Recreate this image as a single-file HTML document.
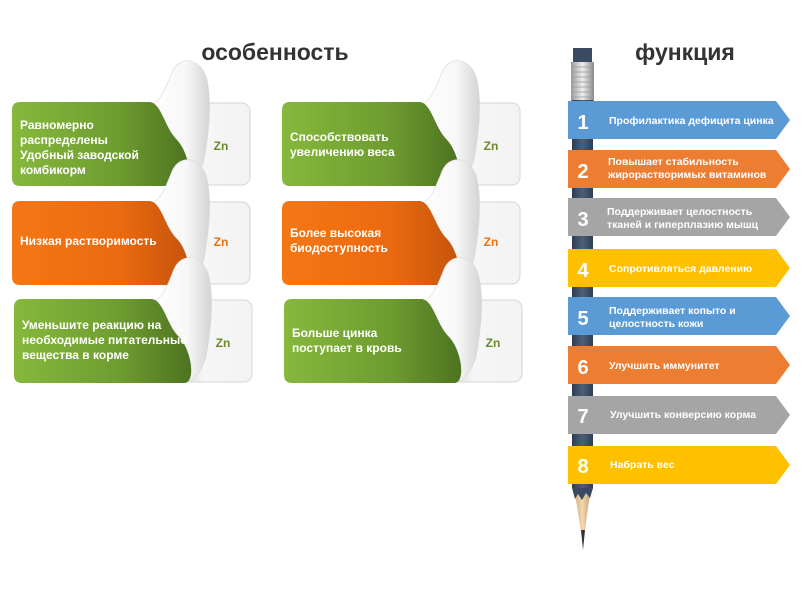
<!DOCTYPE html>
<html><head><meta charset="utf-8"><style>
body{margin:0;background:#fff;}
svg text{font-family:"Liberation Sans",sans-serif;}
</style></head><body>
<svg width="810" height="600" viewBox="0 0 810 600" xmlns="http://www.w3.org/2000/svg">
<defs>
<linearGradient id="gG" x1="0" x2="1"><stop offset="0" stop-color="#86b83c"/><stop offset="0.6" stop-color="#6e9c30"/><stop offset="1" stop-color="#4d7320"/></linearGradient>
<linearGradient id="gO" x1="0" x2="1"><stop offset="0" stop-color="#f47714"/><stop offset="0.6" stop-color="#ec6a10"/><stop offset="1" stop-color="#c4540c"/></linearGradient>
<linearGradient id="gC" x1="0" x2="1"><stop offset="0" stop-color="#ffffff"/><stop offset="0.6" stop-color="#f7f7f7"/><stop offset="1" stop-color="#d4d4d4"/></linearGradient>
<linearGradient id="gW" x1="0" x2="1"><stop offset="0" stop-color="#d8d8d8"/><stop offset="0.35" stop-color="#f6f6f6"/><stop offset="1" stop-color="#f3f3f3"/></linearGradient>
<linearGradient id="gP" x1="0" x2="1"><stop offset="0" stop-color="#2f3d52"/><stop offset="0.5" stop-color="#4c5f7a"/><stop offset="1" stop-color="#2f3d52"/></linearGradient>
<linearGradient id="gM" x1="0" x2="1"><stop offset="0" stop-color="#9a9a9a"/><stop offset="0.5" stop-color="#eeeeee"/><stop offset="1" stop-color="#8a8a8a"/></linearGradient>
<linearGradient id="gT" x1="0" x2="1"><stop offset="0" stop-color="#c9a275"/><stop offset="0.5" stop-color="#f2d7b0"/><stop offset="1" stop-color="#b88e60"/></linearGradient>
<g id="card">
<rect x="165" y="1" width="73" height="82" rx="8" fill="url(#gW)" stroke="#d6d6d6"/>
<path d="M138,2 C150,2 152,25 165,38 C178,52 182,84 170,84 C183,80 188,70 192,58 C197,30 200,0 195,-22 C190,-44 168,-48 160,-30 C154,-15 148,2 138,2Z" fill="url(#gC)" stroke="#d8d8d8" stroke-width="0.6"/>
</g>
</defs>
<text x="275" y="60" font-size="23" font-weight="bold" fill="#333" text-anchor="middle">особенность</text>
<text x="685" y="60" font-size="23" font-weight="bold" fill="#333" text-anchor="middle">функция</text>

<g transform="translate(12,102)"><use href="#card"/><path d="M8,0 H138 C150,2 152,25 165,38 C178,52 182,84 170,84 H8 Q0,84 0,76 V8 Q0,0 8,0Z" fill="url(#gG)"/>
<text font-size="12" font-weight="bold" fill="#fff"><tspan x="8" y="27">Равномерно</tspan><tspan x="8" y="42">распределены</tspan><tspan x="8" y="57">Удобный заводской</tspan><tspan x="8" y="72">комбикорм</tspan></text>
<text x="209" y="48" font-size="12" font-weight="bold" fill="#6a8a2a" text-anchor="middle">Zn</text></g>

<g transform="translate(12,201)"><use href="#card"/><path d="M8,0 H138 C150,2 152,25 165,38 C178,52 182,84 170,84 H8 Q0,84 0,76 V8 Q0,0 8,0Z" fill="url(#gO)"/>
<text x="8" y="44" font-size="12" font-weight="bold" fill="#fff">Низкая растворимость</text>
<text x="209" y="45" font-size="12" font-weight="bold" fill="#e8700f" text-anchor="middle">Zn</text></g>

<g transform="translate(14,299)"><use href="#card"/><path d="M8,0 H138 C150,2 152,25 165,38 C178,52 182,84 170,84 H8 Q0,84 0,76 V8 Q0,0 8,0Z" fill="url(#gG)"/>
<text font-size="12" font-weight="bold" fill="#fff"><tspan x="8" y="30">Уменьшите реакцию на</tspan><tspan x="8" y="45">необходимые питательные</tspan><tspan x="8" y="60">вещества в корме</tspan></text>
<text x="209" y="48" font-size="12" font-weight="bold" fill="#6a8a2a" text-anchor="middle">Zn</text></g>

<g transform="translate(282,102)"><use href="#card"/><path d="M8,0 H138 C150,2 152,25 165,38 C178,52 182,84 170,84 H8 Q0,84 0,76 V8 Q0,0 8,0Z" fill="url(#gG)"/>
<text font-size="12" font-weight="bold" fill="#fff"><tspan x="8" y="39">Способствовать</tspan><tspan x="8" y="54">увеличению веса</tspan></text>
<text x="209" y="48" font-size="12" font-weight="bold" fill="#6a8a2a" text-anchor="middle">Zn</text></g>

<g transform="translate(282,201)"><use href="#card"/><path d="M8,0 H138 C150,2 152,25 165,38 C178,52 182,84 170,84 H8 Q0,84 0,76 V8 Q0,0 8,0Z" fill="url(#gO)"/>
<text font-size="12" font-weight="bold" fill="#fff"><tspan x="8" y="36">Более высокая</tspan><tspan x="8" y="51">биодоступность</tspan></text>
<text x="209" y="45" font-size="12" font-weight="bold" fill="#e8700f" text-anchor="middle">Zn</text></g>

<g transform="translate(284,299)"><use href="#card"/><path d="M8,0 H138 C150,2 152,25 165,38 C178,52 182,84 170,84 H8 Q0,84 0,76 V8 Q0,0 8,0Z" fill="url(#gG)"/>
<text font-size="12" font-weight="bold" fill="#fff"><tspan x="8" y="38">Больше цинка</tspan><tspan x="8" y="53">поступает в кровь</tspan></text>
<text x="209" y="48" font-size="12" font-weight="bold" fill="#6a8a2a" text-anchor="middle">Zn</text></g>

<rect x="573" y="48" width="19" height="16" fill="#3a4a62"/>
<rect x="571" y="62" width="23" height="40" fill="url(#gM)"/>
<g stroke="#9a9a9a" stroke-width="0.8"><line x1="571" y1="67" x2="594" y2="67"/><line x1="571" y1="72" x2="594" y2="72"/><line x1="571" y1="77" x2="594" y2="77"/><line x1="571" y1="82" x2="594" y2="82"/><line x1="571" y1="87" x2="594" y2="87"/><line x1="571" y1="92" x2="594" y2="92"/><line x1="571" y1="97" x2="594" y2="97"/></g>
<rect x="572" y="100" width="21" height="388" fill="url(#gP)"/>
<path d="M572,488 L593,488 L589,500 L583,545 L576,500Z" fill="url(#gT)"/>
<path d="M572,488 L593,488 L590,498 L586,493 L582,500 L578,494 L575,499Z" fill="#3a4a62"/>
<path d="M581,530 L585,530 L583,550Z" fill="#333"/>

<g font-weight="bold" fill="#fff">
<path d="M568,101 H776 L790,120 L776,139 H568Z" fill="#5b9bd5"/><text x="583" y="129" font-size="20" fill="#fff" text-anchor="middle">1</text><text x="609" y="124" font-size="10.5" fill="#fff">Профилактика дефицита цинка</text>
<path d="M568,150 H776 L790,169 L776,188 H568Z" fill="#ed7d31"/><text x="583" y="178" font-size="20" fill="#fff" text-anchor="middle">2</text><text font-size="10.5" fill="#fff"><tspan x="608" y="165">Повышает стабильность</tspan><tspan x="608" y="178">жирорастворимых витаминов</tspan></text>
<path d="M568,198 H776 L790,217 L776,236 H568Z" fill="#a5a5a5"/><text x="583" y="226" font-size="20" fill="#fff" text-anchor="middle">3</text><text font-size="10.5" fill="#fff"><tspan x="607" y="215">Поддерживает целостность</tspan><tspan x="607" y="228">тканей и гиперплазию мышц</tspan></text>
<path d="M568,249 H776 L790,268 L776,287 H568Z" fill="#ffc000"/><text x="583" y="277" font-size="20" fill="#fff" text-anchor="middle">4</text><text x="609" y="272" font-size="10.5" fill="#fff">Сопротивляться давлению</text>
<path d="M568,297 H776 L790,316 L776,335 H568Z" fill="#5b9bd5"/><text x="583" y="325" font-size="20" fill="#fff" text-anchor="middle">5</text><text font-size="10.5" fill="#fff"><tspan x="609" y="314">Поддерживает копыто и</tspan><tspan x="609" y="327">целостность кожи</tspan></text>
<path d="M568,346 H776 L790,365 L776,384 H568Z" fill="#ed7d31"/><text x="583" y="374" font-size="20" fill="#fff" text-anchor="middle">6</text><text x="609" y="369" font-size="10.5" fill="#fff">Улучшить иммунитет</text>
<path d="M568,396 H776 L790,415 L776,434 H568Z" fill="#a5a5a5"/><text x="583" y="423" font-size="20" fill="#fff" text-anchor="middle">7</text><text x="610" y="418" font-size="10.5" fill="#fff">Улучшить конверсию корма</text>
<path d="M568,446 H776 L790,465 L776,484 H568Z" fill="#ffc000"/><text x="583" y="473" font-size="20" fill="#fff" text-anchor="middle">8</text><text x="610" y="468" font-size="10.5" fill="#fff">Набрать вес</text>
</g>
</svg>
</body></html>
